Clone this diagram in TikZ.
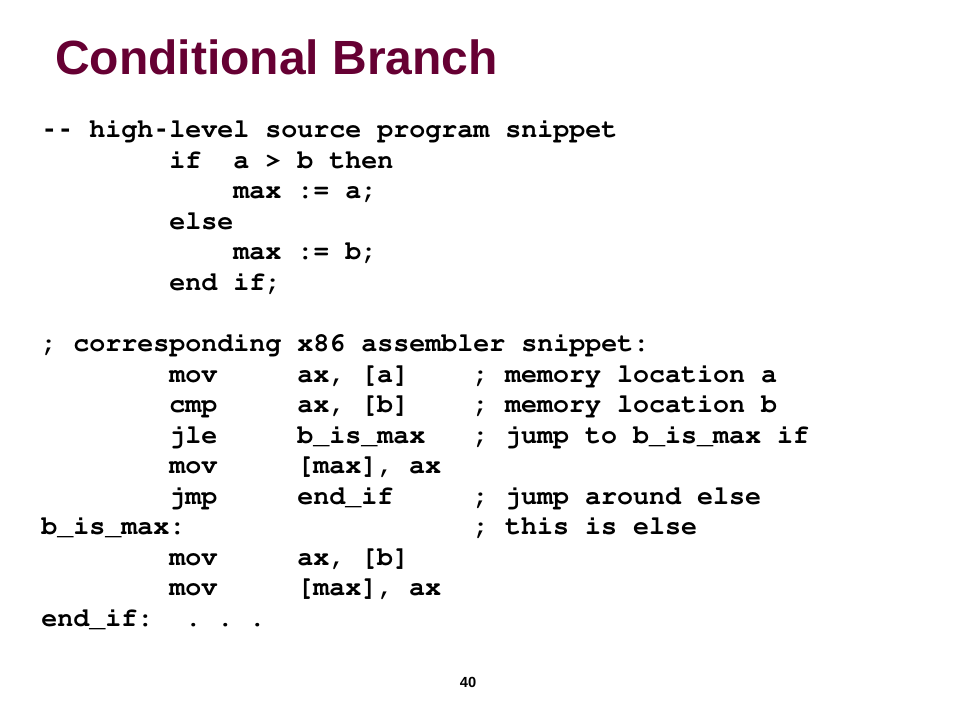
\documentclass[tikz,border=0pt]{standalone}
\usepackage{fontspec}
\setmainfont{Liberation Sans}
\setmonofont{Liberation Mono}
\newfontfamily\lmonohy{Liberation Mono}
\newcommand\hy{{\lmonohy\bfseries -}}
\definecolor{titlered}{HTML}{660033}
\begin{document}
\begin{tikzpicture}[x=0.75pt,y=-0.75pt,
  codeline/.style={anchor=base west, inner sep=0pt, font=\fontencoding{T1}\fontfamily{pcr}\fontseries{b}\fontsize{20}{24}\selectfont},
  titletext/.style={anchor=base west, inner sep=0pt, text=titlered, font=\bfseries\fontsize{36}{43}\selectfont},
  pagenum/.style={anchor=base, inner sep=0pt, font=\bfseries\fontsize{11}{13}\selectfont}]
\useasboundingbox (0,0) rectangle (960,720);
\node[titletext] (title) at (55,75) {Conditional Branch};
\def\lh{30.5}
\node[codeline] (l0) at (41,138) {\hy\hy~high\hy level~source~program~snippet};
\node[codeline] (l1) at (41,138+1*\lh) {~~~~~~~~if~~a~>~b~then};
\node[codeline] (l2) at (41,138+2*\lh) {~~~~~~~~~~~~max~:=~a;};
\node[codeline] (l3) at (41,138+3*\lh) {~~~~~~~~else};
\node[codeline] (l4) at (41,138+4*\lh) {~~~~~~~~~~~~max~:=~b;};
\node[codeline] (l5) at (41,138+5*\lh) {~~~~~~~~end~if;};
\node[codeline] (l7) at (41,138+7*\lh) {;~corresponding~x86~assembler~snippet:};
\node[codeline] (l8) at (41,138+8*\lh) {~~~~~~~~mov~~~~~ax,~[a]~~~~;~memory~location~a};
\node[codeline] (l9) at (41,138+9*\lh) {~~~~~~~~cmp~~~~~ax,~[b]~~~~;~memory~location~b};
\node[codeline] (l10) at (41,138+10*\lh) {~~~~~~~~jle~~~~~b\_is\_max~~~;~jump~to~b\_is\_max~if};
\node[codeline] (l11) at (41,138+11*\lh) {~~~~~~~~mov~~~~~[max],~ax};
\node[codeline] (l12) at (41,138+12*\lh) {~~~~~~~~jmp~~~~~end\_if~~~~~;~jump~around~else};
\node[codeline] (l13) at (41,138+13*\lh) {b\_is\_max:~~~~~~~~~~~~~~~~~~;~this~is~else};
\node[codeline] (l14) at (41,138+14*\lh) {~~~~~~~~mov~~~~~ax,~[b]};
\node[codeline] (l15) at (41,138+15*\lh) {~~~~~~~~mov~~~~~[max],~ax};
\node[codeline] (l16) at (41,138+16*\lh) {end\_if:~~.~.~.};
\node[pagenum] (num) at (468,687) {40};
\end{tikzpicture}
\end{document}
